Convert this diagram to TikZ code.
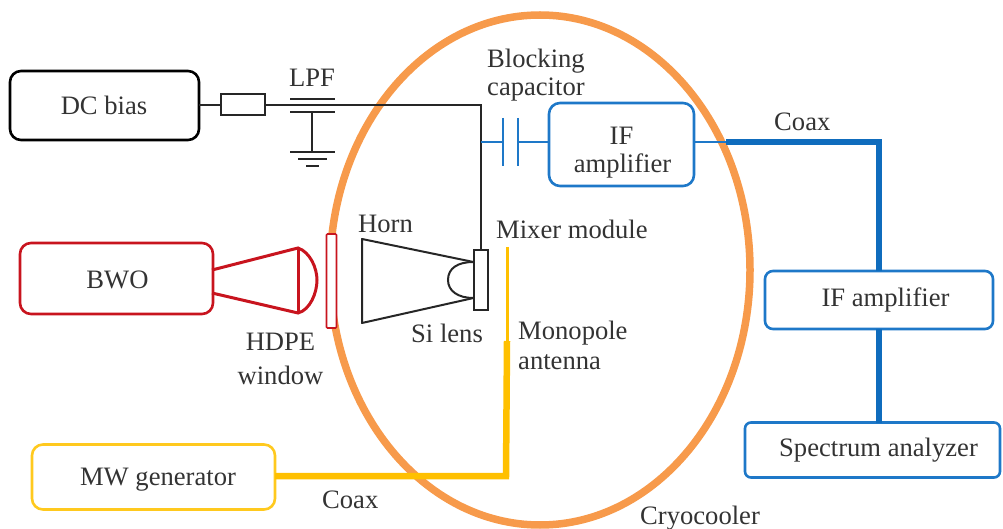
\documentclass[tikz,border=0pt]{standalone}
\usepackage{fontspec}
\usetikzlibrary{calc}
\setmainfont{Liberation Serif}
\definecolor{txt}{HTML}{333333}
\definecolor{orng}{HTML}{F79A4B}
\definecolor{blu}{HTML}{1E78C8}
\definecolor{dblu}{HTML}{0F6CBD}
\definecolor{rd}{HTML}{C8141E}
\definecolor{yel}{HTML}{FFC000}
\definecolor{ylb}{HTML}{FFC91E}
\tikzset{
 lab/.style={text=txt,font=\fontsize{26.7}{29}\selectfont,inner sep=0pt,align=center},
 bx/.style={draw,rounded corners=11bp,inner sep=0pt,outer sep=0pt,line width=2.6bp,text=txt,font=\fontsize{26.7}{29}\selectfont,align=center,anchor=north west},
 thin blk/.style={draw=black!85,line width=2bp},
 thin blu/.style={draw=blu,line width=2bp},
 thick blu/.style={draw=dblu,line width=6bp},
 thick yel/.style={draw=yel,line width=6.5bp},
}
\begin{document}
\begin{tikzpicture}[x=1bp,y=-1bp]
\useasboundingbox (0,0) rectangle (1003,529);
% cryocooler
\draw[orng,line width=7.5bp] (540,270) ellipse [x radius=210,y radius=255];
% boxes
\node[bx,draw=black,minimum width=189bp,minimum height=69bp] (dc) at (10,71) {\hspace*{-1bp}DC bias};
\node[bx,draw=rd,minimum width=193bp,minimum height=71bp] (bwo) at (20,243) {\hspace*{2bp}\rule{0pt}{20bp}BWO};
\node[bx,draw=ylb,minimum width=243bp,minimum height=65bp] (mw) at (32,444.5) {\hspace*{9bp}\rule{0pt}{23.6bp}MW generator};
\node[bx,draw=blu,minimum width=145bp,minimum height=83bp] (if1) at (549,103) {\rule{0pt}{34bp}IF\\[-0.5pt]\hspace*{2bp}amplifier};
\node[bx,draw=blu,minimum width=228bp,minimum height=58bp,rounded corners=8bp] (if2) at (765,271) {\hspace*{13bp}IF amplifier};
\node[bx,draw=blu,minimum width=255bp,minimum height=55bp,rounded corners=6bp] (sa) at (745,422.5) {\hspace*{12bp}Spectrum analyzer};
% DC line, resistor and LPF
\node[draw=black!85,line width=2bp,minimum width=44bp,minimum height=21bp,inner sep=0pt] (res) at (243,105) {};
\coordinate (corner) at (481,105);
\node[draw=black!85,line width=2bp,minimum width=14bp,minimum height=60bp,inner sep=0pt] (mix) at (480.5,280) {};
\draw[thin blk] (dc.east |- res) -- (res);
\draw[thin blk] (res) -- (corner) -- (corner |- mix.north);
\coordinate (pa) at (312,99); \coordinate (pb) at (312,112);
\coordinate (gnd) at (312,152);
\draw[thin blk] ($(pa)+(-22,0)$) -- ($(pa)+(23,0)$);
\draw[thin blk] ($(pb)+(-22,0)$) -- ($(pb)+(23,0)$);
\draw[thin blk] (pb) -- (gnd);
\draw[thin blk] ($(gnd)+(-22,0)$) -- ($(gnd)+(23,0)$);
\draw[thin blk] ($(gnd)+(-14,7)$) -- ($(gnd)+(15,7)$);
\draw[thin blk] ($(gnd)+(-6,14)$) -- ($(gnd)+(7,14)$);
% blocking capacitor
\coordinate (c1) at (503,142); \coordinate (c2) at (518,142);
\draw[thin blu] (corner |- c1) -- (c1);
\draw[thin blu] (c2) -- (if1.west |- c2);
\draw[thin blu] ($(c1)+(0,-24)$) -- ($(c1)+(0,24)$);
\draw[thin blu] ($(c2)+(0,-24)$) -- ($(c2)+(0,24)$);
\coordinate (ifo) at (if1.east |- c1);
\coordinate (thk) at (726,142);
\coordinate (cbend) at (879,142);
\draw[thin blu] (ifo) -- (thk);
\draw[thick blu,line join=miter] (thk) -- (cbend) -- (cbend |- if2.north);
\draw[thick blu] (cbend |- if2.south) -- (cbend |- sa.north);
% BWO horn
\coordinate (h1) at (298,248); \coordinate (h2) at (298,313);
\draw[rd,line width=3bp] (212,270) -- (h1) .. controls (310,252) and (317,268) .. (317,280) .. controls (317,293) and (310,310) .. (h2) -- (212,293);
\draw[rd,line width=3bp] (h1) -- (h2);
% window
\node[draw=rd,fill=white,line width=1.7bp,rounded corners=1bp,minimum width=10bp,minimum height=94bp,inner sep=0pt] (win) at (331.5,281) {};
% horn and lens
\coordinate (ha) at (362,239); \coordinate (hb) at (362,323);
\coordinate (ma) at (473.5,262); \coordinate (mb) at (473.5,298);
\draw[thin blk,line join=round] (ma) -- (ha) -- (hb) -- (mb);
\draw[thin blk] (ma) .. controls (458,262) and (448,268) .. (448,280) .. controls (448,291) and (458,298) .. (mb);
% antenna
\coordinate (an0) at (507,247); \coordinate (an1) at (507,341); \coordinate (an2) at (506,476);
\draw[yel,line width=3bp] (an0) -- (an1);
\draw[thick yel,line join=miter] (an1) -- (an2) -- (mw.east |- an2);
% labels
\node[lab] (l1) at (312,78) {LPF};
\node[lab,anchor=west] (l2) at (487,61) {Blocking};
\node[lab,anchor=west] (l3) at (487,90) {capacitor};
\node[lab,anchor=west] (l4) at (774,122) {Coax};
\node[lab,anchor=west] (l5) at (358,224) {Horn};
\node[lab,anchor=west] (l6) at (496,229.5) {Mixer module};
\node[lab,anchor=west] (l7) at (411,333) {Si lens};
\node[lab] (l8) at (280.5,342) {HDPE};
\node[lab] (l9) at (280.5,375) {window};
\node[lab,anchor=west] (l10) at (518,333) {Monopole};
\node[lab,anchor=west] (l11) at (518,362) {antenna};
\node[lab,anchor=west] (l12) at (322,500) {Coax};
\node[lab,anchor=west] (l13) at (640,518) {Cryocooler};
\end{tikzpicture}
\end{document}
